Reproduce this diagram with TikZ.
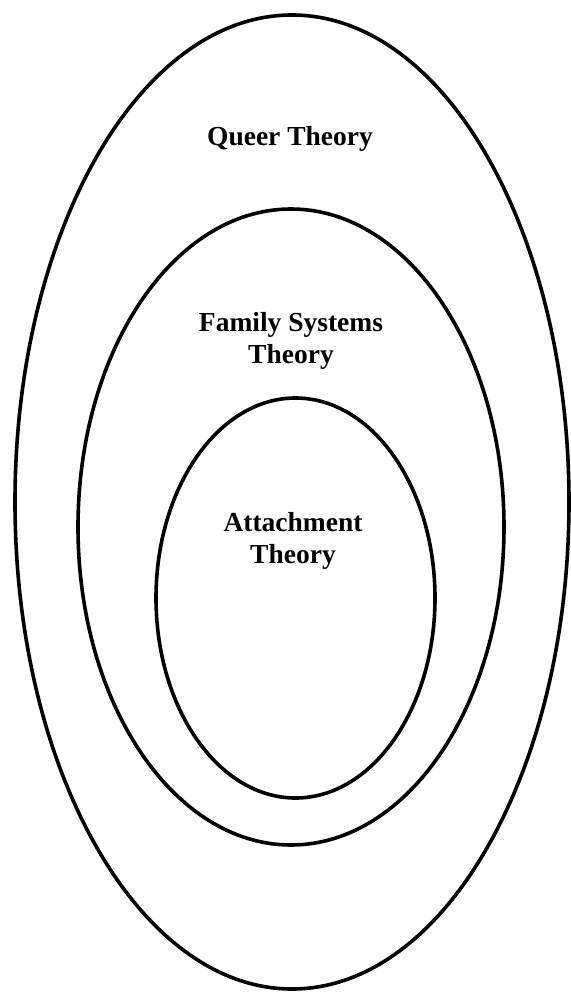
\documentclass[tikz,border=0pt]{standalone}
\usepackage{fontspec}
\setmainfont{Liberation Serif}
\usetikzlibrary{shapes.geometric}
\begin{document}
\begin{tikzpicture}[x=1pt,y=-1pt,
  ring/.style={draw=black,line width=3.6pt},
  lbl/.style={font=\bfseries\fontsize{27.5}{32}\selectfont,align=center,inner sep=0pt}]
\useasboundingbox (0,0) rectangle (570,992);
\draw[ring] (292,502) ellipse [x radius=277, y radius=487];
\draw[ring] (291,527) ellipse [x radius=213, y radius=318];
\draw[ring] (295.5,598) ellipse [x radius=139.5, y radius=200];
\node[lbl] (queer) at (290,139) {Queer Theory};
\node[lbl] (family) at (291,341) {Family Systems\\Theory};
\node[lbl] (attach) at (293,541) {Attachment\\Theory};
\end{tikzpicture}
\end{document}
